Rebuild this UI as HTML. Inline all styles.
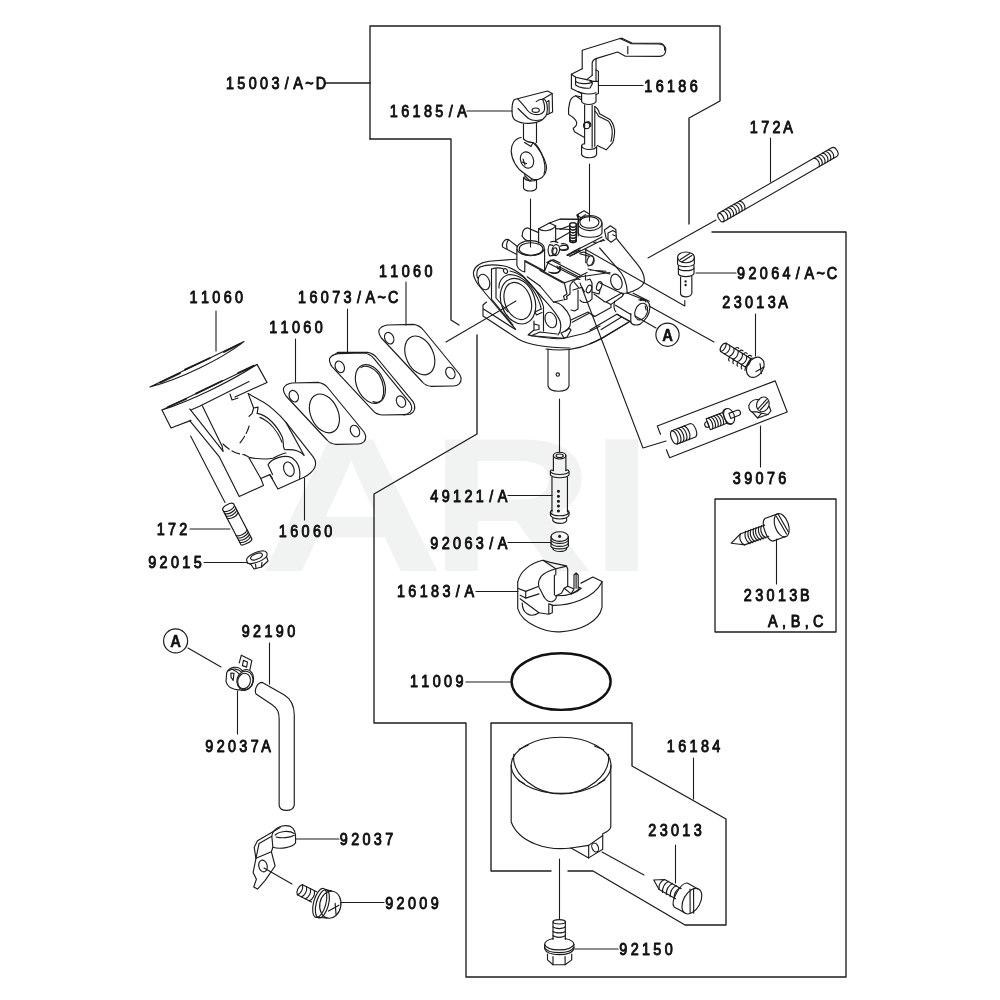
<!DOCTYPE html>
<html lang="en"><head><meta charset="utf-8"><title>Carburetor parts diagram</title>
<style>
html,body{margin:0;padding:0;background:#fff;}
body{width:1000px;height:1000px;overflow:hidden;}
svg{display:block}
.l{fill:none;stroke:#1c1c1c;stroke-width:1.1;stroke-linecap:round;stroke-linejoin:round}
.w{fill:#fff}
.t{font-family:"Liberation Sans","DejaVu Sans",sans-serif;font-weight:normal;font-size:16px;fill:#111;stroke:#111;stroke-width:0.95px;stroke-linejoin:round}
.wm{font-family:"Liberation Sans",sans-serif;font-weight:bold;fill:#f1f3f2;stroke:none}
</style></head><body>
<svg width="1000" height="1000" viewBox="0 0 1000 1000">
<rect width="1000" height="1000" fill="#fff"/>
<!-- 00_watermark.svg -->
<text class="wm" font-size="191" y="571"><tspan x="258.300" textLength="185.800" lengthAdjust="spacingAndGlyphs">A</tspan><tspan x="430" textLength="164" lengthAdjust="spacingAndGlyphs">R</tspan><tspan x="590.500" textLength="63" lengthAdjust="spacingAndGlyphs">I</tspan></text>
<!-- 01_frames.svg -->
<g class="l" style="stroke-width:1.35">
<path d="M325,83 H370"/>
<path d="M370,139 V26 H720 V101 L689,118 V224"/>
<path d="M370,139 H451 V320 L459,325"/>
<path d="M477,335 V434 L374,494 V723 H466 V977 H846 V232 H712"/>
<path d="M551,871 H491 V723 H632 V766 L726,819 V925 H685 L593,871 H568"/>
<path d="M715,499 H836 V632 H715 Z" style="stroke-width:1.300"/>
</g>
<!-- 10_16185.svg -->
<g class="l" transform="translate(490,80) scale(0.1)" style="stroke-width:11.50">
<!-- knob -->
<path d="M245,195 L575,110 L622,135 L626,320 L575,345"/>
<path d="M245,195 C225,212 220,240 220,300 C220,350 222,385 250,400 C290,425 340,437 400,434 C470,430 530,402 558,362 C578,330 578,255 562,215 C555,200 545,193 530,190"/>
<path d="M275,187 C300,215 345,262 372,300 C400,338 450,350 490,345 C530,336 550,312 546,272 C543,232 536,208 524,193 C500,192 478,204 462,216"/>
<path d="M280,285 C310,315 350,355 385,385 C420,408 470,408 515,398"/>
<path d="M530,190 L622,135"/>
<path d="M575,215 L590,205 L592,335"/>
<ellipse cx="457" cy="302" rx="36" ry="22"/>
<!-- shaft -->
<path d="M335,440 V590"/>
<path d="M465,428 V625"/>
<!-- disc -->
<path d="M335,590 C360,615 400,625 430,625"/>
<path d="M312,575 C250,585 212,640 212,710 C215,800 270,890 345,935"/>
<path d="M430,625 C480,670 545,770 562,850 C572,920 540,975 480,995 C455,1000 435,995 420,990"/>
<path d="M450,632 C500,690 535,760 548,850 C552,890 548,920 540,940"/>
<path d="M345,625 L410,665 L430,625"/>
<ellipse cx="370" cy="800" rx="64" ry="84" transform="rotate(-22 370 800)"/>
<path d="M315,820 L365,835 M330,790 L350,850"/>
<!-- bottom stub -->
<path d="M345,935 L420,990 L400,1010 L350,960 Z"/>
<path d="M335,975 V1080 C350,1120 450,1120 465,1080 V1000"/>
<path d="M340,970 C350,1010 420,1020 465,1000"/>
</g>
<path class="l" d="M530.5,199 V247"/>
<path class="l" d="M467,111 H512"/>
<!-- 11_16186.svg -->
<g class="l" transform="translate(560,25) scale(0.12)" style="stroke-width:9.58">
<!-- lever -->
<path d="M185,365 V210 L500,112 L590,155 L820,158 C860,160 882,180 882,205 C882,240 860,262 830,262 L545,260 L480,225 L300,280 C280,288 268,300 268,320 V420"/>
<path d="M500,112 H520 L600,150 L840,152 C865,160 875,180 872,210"/>
<path d="M300,285 V470"/>
<path d="M565,180 V240"/>
<!-- collar -->
<path d="M185,365 L95,410 V530 L180,570"/>
<path d="M95,410 L130,435 V500 C160,525 220,530 250,525 L270,490 L265,465 L222,455"/>
<path d="M130,435 L222,455 L268,420"/>
<path d="M130,470 C160,490 220,495 265,480"/>
<path d="M300,375 L320,385 V570 L300,580"/>
<path d="M250,470 H320"/>
<path d="M180,570 V640 C200,670 280,670 300,640 V580"/>
<path d="M150,555 C190,580 260,580 300,565"/>
<!-- shaft -->
<path d="M205,665 V990"/>
<path d="M268,670 V1020"/>
<path d="M290,680 V1010"/>
<!-- plate left -->
<path d="M180,600 L130,590 C100,600 85,620 80,650 C70,690 68,720 72,745 C100,760 130,780 138,810 C142,830 140,845 110,860 L120,890 L200,935"/>
<path d="M130,590 L160,610 L180,625"/>
<!-- plate right -->
<path d="M290,680 C310,690 322,710 330,740 L420,790 C445,820 458,870 455,900 C452,940 445,965 440,980 L385,1040 L310,1005"/>
<path d="M290,715 C305,730 315,745 322,760 L405,802 C425,830 438,870 435,905 C433,935 430,955 425,970"/>
<ellipse cx="222" cy="838" rx="26" ry="26"/>
<path d="M205,815 L235,805 C255,810 260,830 255,845"/>
<!-- stub -->
<path d="M205,990 C180,990 180,1000 180,1010 V1080 C200,1115 290,1115 305,1080 V1015"/>
<path d="M180,1010 C200,1045 280,1045 305,1018"/>
</g>
<path class="l" d="M589.5,164 V221"/>
<path class="l" d="M599,85.5 H643"/>
<!-- 12_172A.svg -->
<g class="l" transform="translate(700,135) scale(0.15)" style="stroke-width:7.67">
<g transform="translate(140,550) rotate(-30)">
<path d="M0,-33 H875 C900,-28 900,28 875,33 H0 C-22,28 -22,-28 0,-33 C20,-25 20,25 0,33"/>
<path d="M30,-33 C50,-18 50,18 30,33 M52,-33 C72,-18 72,18 52,33 M74,-33 C94,-18 94,18 74,33 M96,-33 C116,-18 116,18 96,33 M118,-33 C138,-18 138,18 118,33 M140,-33 C160,-18 160,18 140,33 M162,-33 C182,-18 182,18 162,33 M735,-33 C755,-18 755,18 735,33 M757,-33 C777,-18 777,18 757,33 M779,-33 C799,-18 799,18 779,33 M801,-33 C821,-18 821,18 801,33 M823,-33 C843,-18 843,18 823,33 M845,-33 C865,-18 865,18 845,33 "/>
</g>
</g>
<path class="l" d="M770.5,138 V182"/>
<path class="l" d="M716,220 L648,258"/>
<!-- 20_carbA.svg -->
<g class="l" transform="translate(460,200) scale(0.12)" style="stroke-width:9.58">
<!-- choke boss -->
<ellipse cx="588" cy="402" rx="114" ry="63"/>
<ellipse cx="592" cy="408" rx="99" ry="52"/>
<path d="M474,410 V545 C485,575 515,595 540,600 V505 L705,592 V410"/>
<!-- left tubes -->
<path d="M480,390 L405,330 C380,322 355,345 352,380 C352,392 360,398 370,400 L470,452"/>
<path d="M405,330 C392,345 385,375 392,405"/>
<path d="M518,300 C518,262 535,236 560,232 L655,272"/>
<path d="M518,300 C528,322 550,338 578,342"/>
<!-- block -->
<path d="M655,358 V240 L745,192 L797,215 V350"/>
<path d="M655,240 C690,268 765,258 797,215"/>
<!-- small cylinder -->
<ellipse cx="798" cy="418" rx="31" ry="46" transform="rotate(12 798 418)"/>
<ellipse cx="790" cy="426" rx="17" ry="28" transform="rotate(12 790 426)"/>
<path d="M775,378 L748,372 C730,388 728,440 748,466 L780,462"/>
<path d="M845,365 C890,358 912,385 892,405 C872,420 845,416 835,410"/>
<path d="M755,350 C780,340 800,345 815,355"/>
<!-- upper right links -->
<path d="M745,192 L830,160 H1010"/>
<path d="M797,238 L915,246"/>
<path d="M800,335 L915,268"/>
<!-- spring -->
<path d="M915,205 C915,185 970,185 970,205 V340 C970,360 915,360 915,340 Z"/>
<path d="M915,215 C925,232 960,232 970,215 M915,238 C925,255 960,255 970,238 M915,261 C925,278 960,278 970,261 M915,284 C925,301 960,301 970,284 M915,307 C925,324 960,324 970,307 M915,330 C925,347 960,347 970,330"/>
<path d="M985,120 V300"/>
<!-- body top -->
<path d="M900,455 L1000,400 M915,470 L1000,420"/>
<path d="M735,520 L775,497 L835,525 M820,560 L835,553 V590 C810,612 770,612 740,600"/>
<path d="M705,592 L735,520"/>
<path d="M835,560 L1000,645"/>
<path d="M545,515 L870,690 L975,655 L1000,662"/>
<path d="M560,640 L667,717"/>
</g>
<g class="l" transform="translate(470,255) scale(0.1)" style="stroke-width:11.50">
<!-- flange -->
<path d="M460,42 L190,62 C110,75 45,110 35,170 C30,215 50,250 80,295 L455,742"/>
<path d="M100,120 C150,100 250,95 330,108 C400,120 470,160 530,210 L700,400 C760,470 860,560 900,660 C915,720 905,770 880,800"/>
<path d="M100,120 C70,140 60,190 75,230"/>
<ellipse cx="140" cy="270" rx="55" ry="80" transform="rotate(-20 140 270)"/>
<ellipse cx="808" cy="650" rx="55" ry="80" transform="rotate(-20 808 650)"/>
<path d="M215,140 V440 L430,700"/>
<path d="M260,135 V430 L380,570"/>
<path d="M215,140 C250,128 300,128 330,135"/>
<ellipse cx="355" cy="160" rx="19" ry="25" transform="rotate(-30 355 160)"/>
<!-- bore rings -->
<ellipse cx="478" cy="460" rx="130" ry="192" transform="rotate(-20 478 460)"/>
<ellipse cx="480" cy="462" rx="168" ry="234" transform="rotate(-20 480 462)"/>
<path d="M290,330 C285,270 320,215 380,198 C450,185 540,230 610,320 C660,390 700,470 712,540"/>
<path d="M400,160 C470,170 560,230 640,330 C690,400 720,450 735,520 V760"/>
<path d="M712,540 L650,570 L665,600 L720,575"/>
<path d="M640,660 V750 L585,795 L612,808 L940,832"/>
<path d="M640,690 L690,702 V745 L645,752"/>
<path d="M612,808 L700,770 L870,790"/>
<!-- base plate -->
<path d="M165,470 L130,500 V610 L480,840 C560,885 700,925 1000,930"/>
<path d="M135,540 L455,745"/>
</g>
<!-- 21_carbB.svg -->
<g class="l" transform="translate(560,200) scale(0.12)" style="stroke-width:9.58">
<!-- throttle boss -->
<ellipse cx="250" cy="192" rx="100" ry="63"/>
<ellipse cx="245" cy="186" rx="80" ry="48"/>
<path d="M150,195 V275 C170,322 330,322 350,275 V195"/>
<path d="M140,125 L200,90 L240,115 M140,125 L155,162 M140,125 L175,147 L212,122"/>
<path d="M0,158 L142,162 M0,245 L80,215"/>
<!-- spring -->
<path d="M80,205 C80,185 135,185 135,205 V340 C135,360 80,360 80,340 Z"/>
<path d="M80,215 C90,232 125,232 135,215 M80,238 C90,255 125,255 135,238 M80,261 C90,278 125,278 135,261 M80,284 C90,301 125,301 135,284 M80,307 C90,324 125,324 135,307 M80,330 C90,347 125,347 135,330"/>
<!-- small block right -->
<path d="M370,250 L420,215 L465,245 L470,320 L425,352 L385,320 Z"/>
<path d="M400,275 L440,255 L465,268 M400,275 V330 M440,290 L468,302"/>
<path d="M350,308 L95,440 M362,330 L110,456 L60,462"/>
<path d="M280,356 L302,350 M335,346 L372,336"/>
<path d="M0,385 C30,370 70,380 70,400 C70,420 30,425 0,415"/>
<!-- body right outline -->
<path d="M470,320 L640,530 C690,590 712,640 700,690 C680,730 620,760 560,775"/>
<path d="M330,400 L475,565 C520,610 560,680 560,775"/>
<ellipse cx="470" cy="682" rx="45" ry="66" transform="rotate(-20 470 682)"/>
<path d="M215,405 V522"/>
<ellipse cx="252" cy="505" rx="25" ry="42" transform="rotate(20 252 505)"/>
<path d="M165,448 L240,468"/>
</g>
<!-- leaders around carb -->
<g class="l">
<path d="M585.2,249.2 L684.8,306 V300.5"/>
<path d="M649,306 L714,342"/>
<path d="M580,283 L643,448 L666,441"/>
<path d="M656,328 L635,316"/>
<path d="M760.5,426 V467"/>
<path d="M755.5,314 V356"/>
<path d="M696,273 H736"/>
</g>
<!-- 22_carbD.svg -->
<g class="l" transform="translate(590,270) scale(0.08)" style="stroke-width:14.37">
<!-- inlet tube -->
<ellipse cx="640" cy="520" rx="75" ry="108" transform="rotate(22 640 520)"/>
<path d="M610,375 C700,345 752,410 748,470 C745,540 705,625 620,680 C560,700 510,680 510,640 V545"/>
<path d="M470,290 L690,378 M540,290 L740,392"/>
<path d="M320,440 L510,555 M340,552 L510,652"/>
<path d="M310,390 C290,440 300,500 322,520"/>
<path d="M690,450 L702,500"/>
<path d="M630,380 C660,375 690,380 700,400"/>
<!-- tab -->
<path d="M200,400 L390,290 L420,302 L400,332 L262,430 V470 L60,582 L20,556"/>
<path d="M200,400 L262,430"/>
<path d="M390,290 L470,290"/>
<!-- base plate upper lines -->
<path d="M0,750 L335,552 L500,642"/>
<path d="M140,745 L390,592"/>
<path d="M0,920 C60,900 120,872 160,850 L480,652"/>
</g>
<g class="l">
<!-- base plate bottom edge continuing and nozzle tube -->
<path d="M546,349 C552,350 556,350 560,350 C575,350 590,345 602,338 L629,322"/>
<path d="M528,335 C545,338 560,340 565,338 L582,334 C590,332 595,329 600,326"/>
<path d="M548,349 V386 C550,393 567,393 569,386 V350"/>
<circle cx="557.800" cy="374.600" r="1.700"/>
<path d="M559.5,399 V452"/>
</g>
<!-- 23_carbN.svg -->
<g class="l" transform="translate(540,250) scale(0.1)" style="stroke-width:11.50">
<path d="M0,360 L135,520 L232,500"/>
<path d="M245,335 L270,440 L235,462 L245,497 L272,490 L266,465 L300,440 V360 C310,320 340,300 385,285"/>
<path d="M135,520 C200,525 265,585 300,670 C315,740 300,790 250,812"/>
<path d="M250,812 L290,780 L310,800 L270,870 L240,880 L210,830 Z"/>
<path d="M380,400 V590 L345,610 L310,600"/>
<path d="M340,320 L390,382 L420,372 L445,420"/>
<path d="M330,400 L380,385"/>
<path d="M400,500 C420,535 485,535 520,490 V330 L500,290 L470,300"/>
<ellipse cx="490" cy="390" rx="24" ry="40" transform="rotate(25 490 390)"/>
<ellipse cx="592" cy="360" rx="24" ry="45" transform="rotate(20 592 360)"/>
<path d="M455,250 V300"/>
<path d="M520,420 L590,440 L600,405"/>
<path d="M310,700 L480,620 L540,662"/>
<path d="M322,722 L487,636"/>
<path d="M540,440 L650,520"/>
<path d="M600,330 L830,440"/>
<path d="M70,125 L370,275 L470,225"/>
<path d="M70,125 L110,100 L400,250"/>
<path d="M170,160 L180,190 L200,180 L196,215 C170,240 130,236 110,226"/>
<path d="M270,50 L400,0 M400,30 L440,20 L520,60 C550,80 550,120 520,150 L480,160"/>
<path d="M480,190 L700,240 M390,270 L700,225 M500,200 L660,212"/>
<path d="M0,205 L220,325 L245,332"/>
</g>
<!-- 30_gaskets.svg -->
<g class="l" transform="translate(270,300) scale(0.2)" style="stroke-width:5.75">
<g transform="translate(0,0)">
<path class="w" d="M68,440 C75,425 90,418 110,415 L240,412 C265,415 280,428 290,440 L470,660 C482,680 482,695 470,708 C460,718 450,720 440,720 L330,722 C310,720 295,712 285,700 L80,480 C70,465 65,452 68,440 Z"/>
<ellipse cx="272" cy="567" rx="68" ry="102" transform="rotate(-25 272 567)"/>
<ellipse cx="119" cy="481" rx="22" ry="30" transform="rotate(-25 119 481)"/>
<ellipse cx="425" cy="655" rx="22" ry="30" transform="rotate(-25 425 655)"/>
</g>
<g transform="translate(230,-147)">
<path class="w" d="M108,409 L258,409 C280,412 295,425 305,437 L485,655 C497,678 497,695 485,708 L470,718 L440,722 L70,440 Z"/>
<path class="w" d="M68,440 C75,425 90,418 110,415 L240,412 C265,415 280,428 290,440 L470,660 C482,680 482,695 470,708 C460,718 450,720 440,720 L330,722 C310,720 295,712 285,700 L80,480 C70,465 65,452 68,440 Z"/>
<ellipse cx="272" cy="567" rx="68" ry="102" transform="rotate(-25 272 567)"/>
<path d="M225,485 C245,470 285,480 315,520 C340,560 345,610 330,645 C320,660 300,662 285,655"/>
<ellipse cx="119" cy="481" rx="22" ry="30" transform="rotate(-25 119 481)"/>
<ellipse cx="425" cy="655" rx="22" ry="30" transform="rotate(-25 425 655)"/>
</g>
<g transform="translate(477,-290)">
<path class="w" d="M68,440 C75,425 90,418 110,415 L240,412 C265,415 280,428 290,440 L470,660 C482,680 482,695 470,708 C460,718 450,720 440,720 L330,722 C310,720 295,712 285,700 L80,480 C70,465 65,452 68,440 Z"/>
<ellipse cx="272" cy="567" rx="68" ry="102" transform="rotate(-25 272 567)"/>
<ellipse cx="119" cy="481" rx="22" ry="30" transform="rotate(-25 119 481)"/>
<ellipse cx="425" cy="655" rx="22" ry="30" transform="rotate(-25 425 655)"/>
</g>
</g>
<g class="l"><path d="M295.5,339 V382"/><path d="M347.5,309 V352"/><path d="M406,282 V325"/><path d="M446,342 L516,301"/></g>
<!-- 31_manifold.svg -->
<g class="l" transform="translate(140,330) scale(0.2)" style="stroke-width:5.75">
<!-- gasket edge-on -->
<path d="M50,285 L520,58 C400,150 200,245 50,285 Z" />
<path d="M225,198 L350,140 M100,263 L200,216 M420,110 L500,70" style="stroke-width:9"/>
<!-- manifold top flange -->
<path d="M110,400 L585,172 C450,260 250,355 110,400 Z"/>
<path d="M280,318 L410,255 M140,385 L230,345 M490,215 L570,178" style="stroke-width:9"/>
<path d="M110,400 L155,490 L255,452"/>
<path d="M585,172 L635,262 L475,335"/>
<path d="M255,400 L300,380 L545,258"/>
<path d="M450,320 L460,350 L490,340"/>
</g>
<g class="l" transform="translate(160,390) scale(0.18)" style="stroke-width:6.39">
<path d="M165,105 L350,340"/>
<path d="M235,88 L345,312 L350,340"/>
<path d="M165,170 L330,372 L440,592 L575,530 L560,492 L610,470 L655,550 L800,485 C860,452 882,410 850,370 L700,180 C660,130 600,80 560,60 L490,20"/>
<ellipse cx="716" cy="440" rx="28" ry="41" transform="rotate(-20 716 440)"/>
<path d="M625,470 L600,415 C620,380 690,358 730,375 C770,400 782,440 775,492"/>
<path d="M540,130 C600,140 650,200 680,262 C690,300 680,325 695,332 C720,330 770,330 800,362"/>
<path d="M555,152 C610,175 655,230 678,290"/>
<path d="M700,180 L800,362"/>
<path d="M490,20 L520,100 L512,130 L495,146"/>
<path d="M520,100 L545,95 L540,130"/>
<path d="M495,200 C488,225 478,250 440,300" stroke-dasharray="45 18"/>
<path d="M350,300 C390,340 430,355 470,360" stroke-dasharray="45 18"/>
<path d="M470,360 L500,376 C540,382 600,388 630,378 C660,362 680,352 700,350"/>
<path d="M495,378 L560,492"/>
<path d="M610,470 L625,492"/>
</g>
<g class="l">
<path d="M190.6,436 L225,502.5"/>
<path d="M304.5,478 V520"/>
<path d="M216,311 V351"/>
</g>
<!-- 32_stud172.svg -->
<g class="l" transform="translate(190,490) scale(0.1)" style="stroke-width:11.50">
<g transform="translate(380,165) rotate(62.500)">
<path d="M0,-62 H400 C420,-50 420,50 400,62 H0 C-28,45 -28,-45 0,-62 Z"/>
<path d="M22,-62 C50,-35 50,35 22,62 M48,-62 C76,-35 76,35 48,62 M74,-62 C102,-35 102,35 74,62 M100,-62 C128,-35 128,35 100,62 M295,-62 C323,-35 323,35 295,62 M320,-62 C348,-35 348,35 320,62 M345,-62 C373,-35 373,35 345,62 M370,-62 C398,-35 398,35 370,62 "/>
</g>
<!-- nut -->
<path d="M565,700 C570,660 650,615 730,608 C770,610 778,640 765,665 L780,710 L715,770 L640,790 L610,745 L575,730 Z"/>
<path d="M575,730 C600,750 720,720 765,665"/>
<ellipse cx="665" cy="665" rx="62" ry="27" transform="rotate(-22 665 665)"/>
<path d="M655,742 L660,782 M720,722 L715,770"/>
</g>
<g class="l"><path d="M190,529 H230"/><path d="M204,562.5 H247"/></g>
<!-- 33_screws_right.svg -->
<g class="l" transform="translate(670,240) scale(0.12)" style="stroke-width:9.58">
<!-- 92064 screw -->
<ellipse cx="133" cy="145" rx="70" ry="45"/>
<path d="M85,162 L165,113 M100,182 L182,130"/>
<path d="M63,145 V202 C80,228 180,228 203,200 V145"/>
<path d="M70,215 V285 C90,312 180,312 200,280 V212"/>
<path d="M70,238 C90,262 180,262 200,236"/>
<path d="M88,308 V450 C100,482 170,482 182,445 V303"/>
<circle cx="130" cy="345" r="5" fill="#1a1a1a"/><circle cx="130" cy="375" r="5" fill="#1a1a1a"/>
</g>
<g class="l" transform="translate(700,320) scale(0.09)" style="stroke-width:12.78">
<!-- 23013A screw -->
<g transform="translate(258,303) rotate(32)">
<path d="M0,-55 H335 M0,55 H335 M0,-55 C-32,-40 -32,40 0,55 C28,40 28,-40 0,-55"/>
<path d="M50,-55 C80,-30 80,30 50,55 M105,-55 C135,-30 135,30 105,55 M160,-55 C190,-30 190,30 160,55 M215,-55 C245,-30 245,30 215,55 M270,-55 C300,-30 300,30 270,55 M320,-55 C350,-30 350,30 320,55 "/>
<path d="M125,-55 C117,-75 137,-88 153,-82 M120,58 C115,75 123,90 137,94 M180,-55 C172,-75 192,-88 208,-82 M175,58 C170,75 178,90 192,94 M235,-55 C227,-75 247,-88 263,-82 M230,58 C225,75 233,90 247,94 M290,-55 C282,-75 302,-88 318,-82 M285,58 C280,75 288,90 302,94 "/>
<ellipse cx="420" cy="0" rx="88" ry="120"/>
<path d="M335,-70 C320,-40 320,50 340,90"/>
</g>
<path d="M622,572 L712,522 M667,485 L682,597"/>
</g>
<!-- 34_box39076.svg -->
<g class="l" transform="translate(640,370) scale(0.16)" style="stroke-width:7.19">
<path d="M128,402 L108,350 L845,68 L920,262 L185,548 L165,498"/>
<!-- spring -->
<g transform="translate(275,398) rotate(-21)">
<path d="M-65,-45 H60 C85,-35 85,35 60,45 H-65 C-90,35 -90,-35 -65,-45 Z"/>
<path d="M-65,-45 C-40,-30 -40,30 -65,45 M-45,-45 C-20,-30 -20,30 -45,45 M-25,-45 C0,-30 0,30 -25,45 M-5,-45 C20,-30 20,30 -5,45 M15,-45 C40,-30 40,30 15,45"/>
</g>
<!-- needle -->
<g transform="translate(515,305) rotate(-21)">
<path d="M-95,-18 C-125,-18 -125,18 -95,18 Z"/>
<path d="M-95,-36 H15 V36 H-95 Z"/>
<path d="M-80,-36 C-65,-20 -65,20 -80,36 M-62,-36 C-47,-20 -47,20 -62,36 M-44,-36 C-29,-20 -29,20 -44,36 M-26,-36 C-11,-20 -11,20 -26,36 M-8,-36 C7,-20 7,20 -8,36"/>
<ellipse cx="45" cy="0" rx="32" ry="50"/>
<path d="M15,-36 C25,-50 35,-52 45,-50 M15,36 C25,48 35,52 45,50"/>
<path d="M50,-17 H105 C125,-15 125,15 105,17 H50 Z"/>
</g>
<!-- cap -->
<ellipse cx="768" cy="215" rx="38" ry="47" transform="rotate(20 768 215)"/>
<path d="M745,185 C720,182 690,192 680,222 C680,240 690,258 700,262 L735,300 L800,278 L818,255 L808,228"/>
<path d="M700,262 L730,262 L760,270 L735,300 M760,270 L800,278"/>
<path d="M740,240 L790,185 M752,250 L800,198"/>
</g>
<!-- 35_23013B.svg -->
<g class="l" transform="translate(700,480) scale(0.16)" style="stroke-width:7.19">
<g transform="translate(195,395) rotate(-19.600)">
<path d="M0,0 L75,-36 H235 M0,0 L60,30 L75,38 H235"/>
<path d="M75,-36 C55,-15 55,20 75,38 M110,-40 C90,-15 90,20 110,42 M145,-40 C125,-15 125,20 145,42 M180,-40 C160,-15 160,20 180,42 M215,-40 C195,-15 195,20 215,42"/>
<path d="M128,-40 C110,-15 110,20 128,42 M163,-40 C145,-15 145,20 163,42 M198,-40 C180,-15 180,20 198,42"/>
<path d="M250,-75 C215,-60 215,60 250,75 L335,75 M250,-75 L335,-75"/>
<ellipse cx="335" cy="0" rx="42" ry="76"/>
<path d="M322,-62 L345,62 M338,-70 L360,52"/>
</g>
</g>
<path class="l" d="M776.5,539 V584"/>
<!-- 40_nozzle.svg -->
<g class="l" transform="translate(500,440) scale(0.12)" style="stroke-width:9.58">
<!-- 49121 nozzle -->
<ellipse cx="497" cy="130" rx="52" ry="28"/>
<ellipse cx="497" cy="132" rx="30" ry="15"/>
<path d="M445,130 V255 M549,130 V255"/>
<path d="M445,255 C420,240 420,262 420,265 V292 C440,322 555,322 575,292 V265 C575,240 549,250 549,255"/>
<path d="M420,265 C440,295 555,295 575,265"/>
<path d="M433,308 V600 M562,308 V600"/>
<path d="M433,585 C420,590 420,600 420,605 V628 C440,668 555,668 575,628 V605 C575,590 562,585 562,585"/>
<path d="M420,605 C440,640 555,640 575,605"/>
<path d="M440,655 V672 C460,702 540,702 555,672 V655"/>
<circle cx="487" cy="427" r="8" fill="#1a1a1a"/><circle cx="487" cy="468" r="8" fill="#1a1a1a"/><circle cx="487" cy="510" r="8" fill="#1a1a1a"/><circle cx="487" cy="550" r="8" fill="#1a1a1a"/><circle cx="487" cy="592" r="8" fill="#1a1a1a"/>
<!-- 92063 jet -->
<ellipse cx="497" cy="805" rx="72" ry="40"/>
<circle cx="497" cy="803" r="8" fill="#1a1a1a"/>
<path d="M425,805 V888 C440,915 555,915 570,885 V805"/>
<path d="M425,835 C445,870 550,870 570,835 M425,860 C445,895 550,895 570,860"/>
<path d="M440,898 V908 C460,936 540,936 555,908 V898"/>
</g>
<g class="l"><path d="M508,495.5 H552"/><path d="M508,542.5 H551"/></g>
<!-- 41_float.svg -->
<g class="l" transform="translate(490,540) scale(0.14)" style="stroke-width:8.21">
<path d="M198,300 V490 C230,600 400,662 500,656 C650,650 780,582 800,482 V297"/>
<path d="M198,300 C215,222 290,165 378,145 L430,160 L545,185 L555,205 V332"/>
<path d="M378,145 L470,205 L548,187"/>
<path d="M470,205 C400,225 352,250 346,310 C346,330 352,345 358,352 L385,405"/>
<path d="M470,205 V250 M460,250 V392"/>
<path d="M198,345 L255,367 V415 L215,395"/>
<path d="M255,367 L345,332 M255,415 L350,385"/>
<path d="M215,420 L350,520 L420,530 L445,520 V465 L420,455 V527"/>
<path d="M230,450 C230,520 285,562 350,520"/>
<path d="M385,405 C400,430 420,445 445,440 C470,430 480,410 470,398"/>
<path d="M445,467 C560,470 740,422 800,300"/>
<path d="M800,297 L735,265 L650,308"/>
<path d="M650,345 C610,385 540,400 470,398"/>
<!-- pin and bracket -->
<path d="M600,345 V250 L615,235 L630,250 V352 M615,240 V345"/>
<path d="M530,345 L555,330 L600,350 L580,385 Z"/>
<path d="M580,385 L650,345 L632,336"/>
<path d="M530,345 L510,380 L470,398"/>
</g>
<path class="l" d="M476,591.5 H518"/>
<!-- 42_bowl.svg -->
<g class="l">
<ellipse cx="561.100" cy="681.600" rx="49.500" ry="28.300" style="stroke-width:2.400;stroke:#111"/>
<path d="M466,682 H511"/>
</g>
<g class="l" transform="translate(480,640) scale(0.26)" style="stroke-width:4.42">
<ellipse cx="312" cy="482" rx="192" ry="108"/>
<path d="M130,440 C120,520 220,592 312,592 C410,592 505,520 494,440"/>
<path d="M150,420 L185,405 M440,408 L475,422 M148,540 L170,552 M455,552 L480,538"/>
<path d="M120,482 V700 C150,780 260,812 350,800 L418,838 L472,805 V745 C490,738 500,730 503,720 V482"/>
<path d="M418,790 V838 M350,800 L418,790 L472,752"/>
<ellipse cx="443" cy="798" rx="12" ry="18" transform="rotate(-25 443 798)"/>
</g>
<g class="l">
<path d="M559.5,859 V919"/>
<path d="M602,852 L644,875"/>
<path d="M675.5,845 V883"/>
</g>
<!-- 43_bowl_screws.svg -->
<g class="l" transform="translate(520,840) scale(0.22)" style="stroke-width:5.23">
<!-- 23013 screw -->
<g transform="translate(608,182) rotate(29)">
<path d="M0,0 L42,-26 H128 M0,0 L42,26 H128"/>
<path d="M42,-26 C30,-10 30,10 42,26 M62,-28 C50,-10 50,10 62,30 M82,-28 C70,-10 70,10 82,30 M102,-28 C90,-10 90,10 102,30 M122,-28 C110,-10 110,10 122,30"/>
<path d="M140,-62 C112,-50 112,50 140,62 L195,62 M140,-62 L195,-62"/>
<ellipse cx="198" cy="0" rx="38" ry="63"/>
<path d="M164,-44 L218,52 M178,-52 L232,44"/>
</g>
<!-- 92150 bolt -->
<ellipse cx="178" cy="372" rx="28" ry="10"/>
<path d="M150,372 V452 M206,372 V452"/>
<path d="M150,395 C160,405 196,405 206,395 M150,415 C160,425 196,425 206,415 M150,435 C160,445 196,445 206,435"/>
<path d="M150,448 C120,455 112,465 112,475 V495 C125,530 230,530 245,495 V475 C245,465 235,455 206,448"/>
<path d="M112,475 C125,508 230,508 245,475"/>
<path d="M112,488 C125,520 230,520 245,488"/>
<path d="M125,518 V545 L150,567 H205 L235,545 V518"/>
<path d="M150,530 V567 M205,530 V567"/>
</g>
<path class="l" d="M575,949 H618"/>
<!-- 50_hose.svg -->
<g class="l" transform="translate(150,610) scale(0.21)" style="stroke-width:5.48">
<!-- hose -->
<path d="M535,345 L640,405 C680,430 687,470 687,500 V930 C680,962 620,962 615,930 V520 C615,490 610,470 580,450 L505,400 C495,380 510,345 535,345 Z"/>
<!-- clamp 92037A -->
<ellipse cx="452" cy="336" rx="38" ry="45" transform="rotate(15 452 336)"/>
<ellipse cx="448" cy="338" rx="30" ry="37" transform="rotate(15 448 338)"/>
<path d="M440,290 C420,262 375,270 365,300 L362,340 C370,370 400,382 425,380"/>
<path d="M425,380 C445,388 470,380 485,360 C495,340 495,315 485,298 C470,280 450,280 440,290"/>
<path d="M375,290 C395,275 420,280 435,295"/>
<path d="M425,252 L435,215 L485,240 L475,287"/>
<path d="M445,240 L440,265 L460,272 L464,248 Z"/>
<path d="M385,300 L400,302 L396,335 L386,320 Z"/>
<path d="M385,280 C400,285 420,300 430,310"/>
</g>
<g class="l">
<circle cx="175.600" cy="640.900" r="12" style="stroke-width:1.200"/>
<path d="M188,648 L221,667"/>
<path d="M269.5,643 V684"/>
<path d="M237.5,691 V734"/>
<path d="M693.5,758 V799"/>
</g>
<!-- 51_clamp_bolt.svg -->
<g class="l" transform="translate(230,800) scale(0.22)" style="stroke-width:5.23">
<!-- clamp 92037 -->
<path d="M190,165 C195,125 240,110 275,120 C295,130 300,150 298,180 V195 C285,215 230,225 195,215 Z"/>
<path d="M205,160 C225,140 270,138 292,152"/>
<path d="M210,168 C235,175 270,172 292,160"/>
<path d="M228,125 L125,185 L110,215 L118,265"/>
<path d="M190,165 L132,198 L118,265"/>
<path d="M195,215 L188,235 L118,265 L105,330 L120,360 L108,395 L125,405 L160,365 L205,300 L188,235"/>
<ellipse cx="150" cy="300" rx="19" ry="27" transform="rotate(-15 150 300)"/>
<!-- bolt 92009 -->
<g transform="translate(318,408) rotate(27)">
<path d="M0,-26 H72 M0,26 H72 M0,-26 C-14,-15 -14,15 0,26"/>
<path d="M0,-26 C12,-12 12,12 0,26 M20,-26 C32,-12 32,12 20,26 M40,-26 C52,-12 52,12 40,26 M60,-26 C72,-12 72,12 60,26"/>
</g>
<ellipse cx="408" cy="468" rx="28" ry="68" transform="rotate(15 408 468)"/>
<ellipse cx="420" cy="472" rx="28" ry="66" transform="rotate(15 420 472)"/>
<ellipse cx="456" cy="476" rx="48" ry="62" transform="rotate(10 456 476)"/>
<path d="M432,406 L462,414 M398,534 L440,536"/>
<path d="M448,505 L495,478 M478,470 L482,520"/>
</g>
<g class="l">
<path d="M264,868 L292,884"/>
<path d="M296,839 H339"/>
<path d="M341,902.5 H384"/>
</g>
<!-- 90_labels.svg -->
<g class="t" text-anchor="middle" opacity="0.999">
<text transform="translate(275.4 88.9) scale(0.90 1)" x="-50.56 -37.92 -25.28 -12.64 0.00 12.64 25.28 37.92 50.56">15003/A~D</text>
<text transform="translate(427.9 116.9) scale(0.90 1)" x="-37.92 -25.28 -12.64 0.00 12.64 25.28 37.92">16185/A</text>
<text transform="translate(671.0 91.6) scale(0.90 1)" x="-25.28 -12.64 0.00 12.64 25.28">16186</text>
<text transform="translate(770.9 133.2) scale(0.90 1)" x="-18.96 -6.32 6.32 18.96">172A</text>
<text transform="translate(786.5 278.9) scale(0.90 1)" x="-50.56 -37.92 -25.28 -12.64 0.00 12.64 25.28 37.92 50.56">92064/A~C</text>
<text transform="translate(754.7 307.7) scale(0.90 1)" x="-31.60 -18.96 -6.32 6.32 18.96 31.60">23013A</text>
<text transform="translate(405.7 276.9) scale(0.90 1)" x="-25.28 -12.64 0.00 12.64 25.28">11060</text>
<text transform="translate(347.6 303.4) scale(0.90 1)" x="-50.56 -37.92 -25.28 -12.64 0.00 12.64 25.28 37.92 50.56">16073/A~C</text>
<text transform="translate(216.3 302.9) scale(0.90 1)" x="-25.28 -12.64 0.00 12.64 25.28">11060</text>
<text transform="translate(295.9 333.4) scale(0.90 1)" x="-25.28 -12.64 0.00 12.64 25.28">11060</text>
<text transform="translate(305.6 537.4) scale(0.90 1)" x="-25.28 -12.64 0.00 12.64 25.28">16060</text>
<text transform="translate(172.0 535.4) scale(0.90 1)" x="-12.64 0.00 12.64">172</text>
<text transform="translate(174.9 568.2) scale(0.90 1)" x="-25.28 -12.64 0.00 12.64 25.28">92015</text>
<text transform="translate(468.4 501.9) scale(0.90 1)" x="-37.92 -25.28 -12.64 0.00 12.64 25.28 37.92">49121/A</text>
<text transform="translate(468.4 548.7) scale(0.90 1)" x="-37.92 -25.28 -12.64 0.00 12.64 25.28 37.92">92063/A</text>
<text transform="translate(435.1 597.4) scale(0.90 1)" x="-37.92 -25.28 -12.64 0.00 12.64 25.28 37.92">16183/A</text>
<text transform="translate(759.6 484.2) scale(0.90 1)" x="-25.28 -12.64 0.00 12.64 25.28">39076</text>
<text transform="translate(776.3 600.7) scale(0.90 1)" x="-31.60 -18.96 -6.32 6.32 18.96 31.60">23013B</text>
<text transform="translate(795.5 627.1) scale(0.90 1)" x="-25.28 -12.64 0.00 12.64 25.28">A,B,C</text>
<text transform="translate(436.7 687.2) scale(0.90 1)" x="-25.28 -12.64 0.00 12.64 25.28">11009</text>
<text transform="translate(268.4 637.2) scale(0.90 1)" x="-25.28 -12.64 0.00 12.64 25.28">92190</text>
<text transform="translate(237.7 751.7) scale(0.90 1)" x="-31.60 -18.96 -6.32 6.32 18.96 31.60">92037A</text>
<text transform="translate(366.5 845.0) scale(0.90 1)" x="-25.28 -12.64 0.00 12.64 25.28">92037</text>
<text transform="translate(411.9 908.8) scale(0.90 1)" x="-25.28 -12.64 0.00 12.64 25.28">92009</text>
<text transform="translate(693.6 752.3) scale(0.90 1)" x="-25.28 -12.64 0.00 12.64 25.28">16184</text>
<text transform="translate(675.0 836.2) scale(0.90 1)" x="-25.28 -12.64 0.00 12.64 25.28">23013</text>
<text transform="translate(646.0 955.4) scale(0.90 1)" x="-25.28 -12.64 0.00 12.64 25.28">92150</text>
</g>
<g class="l"><circle cx="667.500" cy="334.700" r="11.600" style="stroke-width:1.200"/></g>
<g class="t" text-anchor="middle" style="font-size:16.500px;font-weight:bold;stroke-width:0.5px" opacity="0.999"><text transform="translate(667.500 340.6) scale(0.9 1)">A</text><text transform="translate(175.600 646.8) scale(0.9 1)">A</text></g>
</svg>
</body></html>
